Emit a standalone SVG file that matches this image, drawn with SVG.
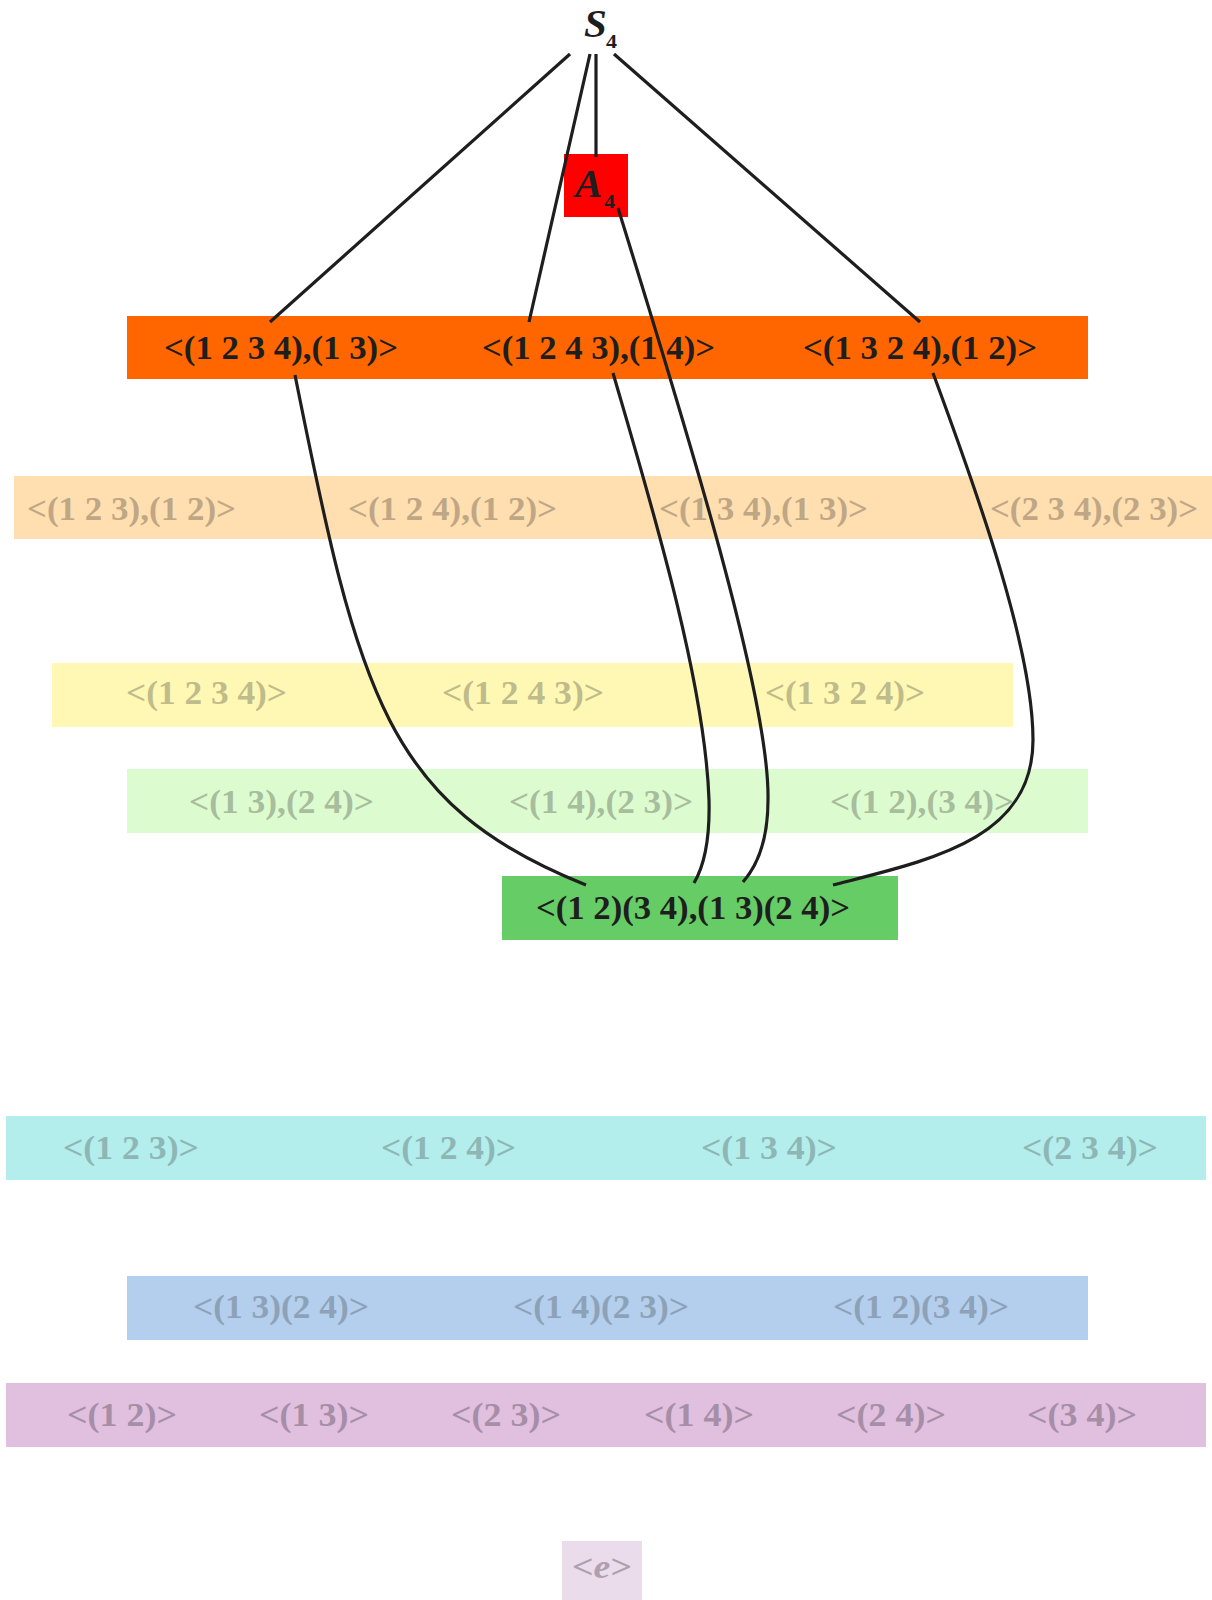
<svg xmlns="http://www.w3.org/2000/svg" width="1212" height="1600" viewBox="0 0 1212 1600">
  <style>
    .lbl { font-family: "Liberation Serif", "Times New Roman", serif; font-weight: bold; font-size: 34px; }
    .dark { fill: #1e1e1e; }
    .f-peach { fill: #bfa786; }
    .f-yellow { fill: #c0bb8a; }
    .f-lgreen { fill: #a8bd9d; }
    .f-cyan { fill: #8db6b5; }
    .f-blue { fill: #8da2b7; }
    .f-pink { fill: #a78ea7; }
    .f-e { fill: #b09fb0; }
    .edge { fill: none; stroke: #1e1e1e; stroke-width: 3.2; }
    .math { font-family: "Liberation Serif", "Times New Roman", serif; font-weight: bold; fill: #1e1e1e; }
  </style>

  <rect width="1212" height="1600" fill="#ffffff"/>

  <!-- rank bands -->
  <g id="bands">
    <rect x="127" y="316" width="961" height="63" fill="#ff6600"/>
    <rect x="14" y="476" width="1198" height="63" fill="#ffdfb0"/>
    <rect x="52" y="663" width="961" height="64" fill="#fff8b4"/>
    <rect x="127" y="769" width="961" height="64" fill="#dcfcd0"/>
    <rect x="6" y="1116" width="1200" height="64" fill="#b3eeec"/>
    <rect x="127" y="1276" width="961" height="64" fill="#b4cfed"/>
    <rect x="6" y="1383" width="1200" height="64" fill="#e0c0de"/>
  </g>

  <g id="S4">
    <text class="math" x="584" y="37" font-size="41" font-style="italic">S</text>
    <text class="math" x="606" y="48" font-size="19" textLength="11" lengthAdjust="spacingAndGlyphs">4</text>
  </g>

  <g id="A4">
    <rect x="564" y="154" width="64" height="63" fill="#ff0000"/>
    <text class="math" x="575" y="197" font-size="41" font-style="italic">A</text>
    <text class="math" x="604" y="208" font-size="19" textLength="11" lengthAdjust="spacingAndGlyphs">4</text>
  </g>

  <!-- order 8 -->
  <g id="D4_a"><text class="lbl dark" x="164" y="359" textLength="234" lengthAdjust="spacingAndGlyphs">&lt;(1 2 3 4),(1 3)&gt;</text></g>
  <g id="D4_b"><text class="lbl dark" x="482" y="359" textLength="233" lengthAdjust="spacingAndGlyphs">&lt;(1 2 4 3),(1 4)&gt;</text></g>
  <g id="D4_c"><text class="lbl dark" x="803" y="359" textLength="234" lengthAdjust="spacingAndGlyphs">&lt;(1 3 2 4),(1 2)&gt;</text></g>

  <!-- order 6 -->
  <g id="S3_a"><text class="lbl f-peach" x="27" y="520" textLength="209" lengthAdjust="spacingAndGlyphs">&lt;(1 2 3),(1 2)&gt;</text></g>
  <g id="S3_b"><text class="lbl f-peach" x="348" y="520" textLength="209" lengthAdjust="spacingAndGlyphs">&lt;(1 2 4),(1 2)&gt;</text></g>
  <g id="S3_c"><text class="lbl f-peach" x="659" y="520" textLength="209" lengthAdjust="spacingAndGlyphs">&lt;(1 3 4),(1 3)&gt;</text></g>
  <g id="S3_d"><text class="lbl f-peach" x="990" y="520" textLength="208" lengthAdjust="spacingAndGlyphs">&lt;(2 3 4),(2 3)&gt;</text></g>

  <!-- cyclic of order 4 -->
  <g id="C4_a"><text class="lbl f-yellow" x="126" y="704" textLength="161" lengthAdjust="spacingAndGlyphs">&lt;(1 2 3 4)&gt;</text></g>
  <g id="C4_b"><text class="lbl f-yellow" x="442" y="704" textLength="162" lengthAdjust="spacingAndGlyphs">&lt;(1 2 4 3)&gt;</text></g>
  <g id="C4_c"><text class="lbl f-yellow" x="765" y="704" textLength="160" lengthAdjust="spacingAndGlyphs">&lt;(1 3 2 4)&gt;</text></g>

  <!-- Klein four, non-normal -->
  <g id="V_a"><text class="lbl f-lgreen" x="189" y="813" textLength="185" lengthAdjust="spacingAndGlyphs">&lt;(1 3),(2 4)&gt;</text></g>
  <g id="V_b"><text class="lbl f-lgreen" x="509" y="813" textLength="184" lengthAdjust="spacingAndGlyphs">&lt;(1 4),(2 3)&gt;</text></g>
  <g id="V_c"><text class="lbl f-lgreen" x="830" y="813" textLength="184" lengthAdjust="spacingAndGlyphs">&lt;(1 2),(3 4)&gt;</text></g>

  <!-- normal Klein four -->
  <g id="V4">
    <rect x="502" y="876" width="396" height="64" fill="#66cc66"/>
    <text class="lbl dark" x="536" y="919" textLength="314" lengthAdjust="spacingAndGlyphs">&lt;(1 2)(3 4),(1 3)(2 4)&gt;</text>
  </g>

  <!-- cyclic of order 3 -->
  <g id="C3_a"><text class="lbl f-cyan" x="63" y="1159" textLength="136" lengthAdjust="spacingAndGlyphs">&lt;(1 2 3)&gt;</text></g>
  <g id="C3_b"><text class="lbl f-cyan" x="381" y="1159" textLength="135" lengthAdjust="spacingAndGlyphs">&lt;(1 2 4)&gt;</text></g>
  <g id="C3_c"><text class="lbl f-cyan" x="701" y="1159" textLength="136" lengthAdjust="spacingAndGlyphs">&lt;(1 3 4)&gt;</text></g>
  <g id="C3_d"><text class="lbl f-cyan" x="1022" y="1159" textLength="136" lengthAdjust="spacingAndGlyphs">&lt;(2 3 4)&gt;</text></g>

  <!-- order 2, double transpositions -->
  <g id="C2d_a"><text class="lbl f-blue" x="193" y="1318" textLength="176" lengthAdjust="spacingAndGlyphs">&lt;(1 3)(2 4)&gt;</text></g>
  <g id="C2d_b"><text class="lbl f-blue" x="513" y="1318" textLength="176" lengthAdjust="spacingAndGlyphs">&lt;(1 4)(2 3)&gt;</text></g>
  <g id="C2d_c"><text class="lbl f-blue" x="833" y="1318" textLength="176" lengthAdjust="spacingAndGlyphs">&lt;(1 2)(3 4)&gt;</text></g>

  <!-- order 2, transpositions -->
  <g id="C2t_a"><text class="lbl f-pink" x="67" y="1426" textLength="110" lengthAdjust="spacingAndGlyphs">&lt;(1 2)&gt;</text></g>
  <g id="C2t_b"><text class="lbl f-pink" x="259" y="1426" textLength="110" lengthAdjust="spacingAndGlyphs">&lt;(1 3)&gt;</text></g>
  <g id="C2t_c"><text class="lbl f-pink" x="451" y="1426" textLength="110" lengthAdjust="spacingAndGlyphs">&lt;(2 3)&gt;</text></g>
  <g id="C2t_d"><text class="lbl f-pink" x="644" y="1426" textLength="110" lengthAdjust="spacingAndGlyphs">&lt;(1 4)&gt;</text></g>
  <g id="C2t_e"><text class="lbl f-pink" x="836" y="1426" textLength="110" lengthAdjust="spacingAndGlyphs">&lt;(2 4)&gt;</text></g>
  <g id="C2t_f"><text class="lbl f-pink" x="1027" y="1426" textLength="110" lengthAdjust="spacingAndGlyphs">&lt;(3 4)&gt;</text></g>

  <!-- trivial subgroup -->
  <g id="E">
    <rect x="562" y="1541" width="80" height="59" fill="#eadcea"/>
    <text class="lbl f-e" x="572" y="1578" textLength="60" lengthAdjust="spacingAndGlyphs">&lt;<tspan font-style="italic">e</tspan>&gt;</text>
  </g>

  <!-- connectors, drawn over the nodes -->
  <g id="edges">
    <line class="edge" x1="570" y1="54" x2="270" y2="322"/>
    <line class="edge" x1="590" y1="54" x2="529" y2="322"/>
    <line class="edge" x1="596" y1="54" x2="596" y2="157"/>
    <line class="edge" x1="614" y1="54" x2="920" y2="322"/>
    <path class="edge" d="M295,375 C359,695 386,805 586,885"/>
    <path class="edge" d="M613,373 C650,500 705,680 709,800 C710,840 704,866 694,883"/>
    <path class="edge" d="M618,208 C690,440 770,700 768,800 C768,840 757,866 743,882"/>
    <path class="edge" d="M933,373 C980,500 1033,650 1033,740 C1033,840 930,860 833,885"/>
  </g>
</svg>
